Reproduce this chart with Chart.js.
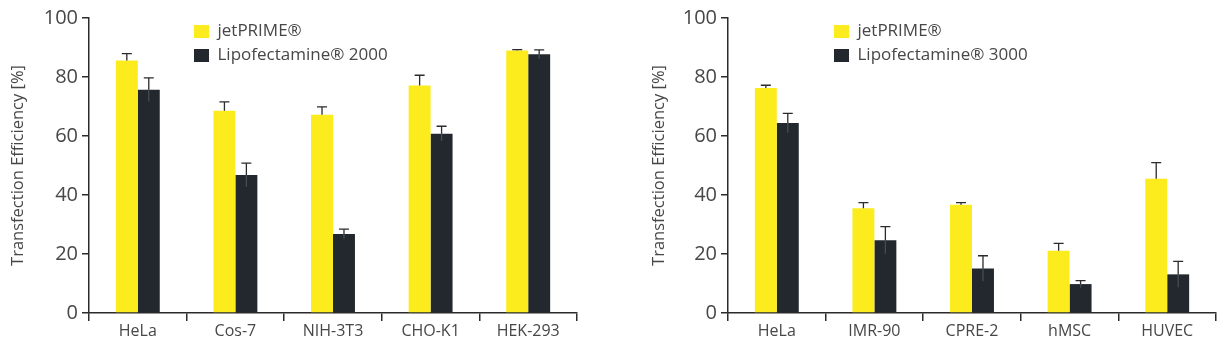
<!DOCTYPE html>
<html>
<head>
<meta charset="utf-8">
<script src="https://cdn.jsdelivr.net/npm/chart.js@4/dist/chart.umd.min.js"></script>
<style>
  html, body { margin: 0; padding: 0; background: #fff; }
  body { width: 1223px; height: 352px; position: relative; overflow: hidden; }
  .box { position: absolute; top: 0; height: 352px; }
</style>
</head>
<body>
<div class="box" style="left:0;width:611px"><canvas id="left" width="611" height="352"></canvas></div>
<div class="box" style="left:611px;width:612px"><canvas id="right" width="612" height="352"></canvas></div>
<script>
// left panel
const leftCategories = ["HeLa", "Cos-7", "NIH-3T3", "CHO-K1", "HEK-293"];
const leftJet = [85.6, 68.6, 67.2, 77.1, 89.0];
const leftJetErr = [2.3, 3.0, 2.7, 3.5, 0.3];
const leftLipo = [75.7, 46.8, 26.8, 60.8, 87.7];
const leftLipoErr = [4.0, 4.0, 1.6, 2.5, 1.5];

// right panel
const rightCategories = ["HeLa", "IMR-90", "CPRE-2", "hMSC", "HUVEC"];
const rightJet = [76.3, 35.5, 36.7, 21.1, 45.5];
const rightJetErr = [0.9, 1.9, 0.7, 2.5, 5.5];
const rightLipo = [64.4, 24.7, 15.1, 9.8, 13.1];
const rightLipoErr = [3.3, 4.6, 4.3, 1.2, 4.4];

const yTicks = [0, 20, 40, 60, 80, 100];

const YELLOW = "#fcec1e";
const DARK = "#22282e";
const AXIS = "#2b2b2b";
const TEXT = "#474747";
const FONT = "'Open Sans', sans-serif";

// draws the error whiskers on top of the bars
const errorBars = {
    id: "errorBars",
    afterDatasetsDraw(chart) {
        const ctx = chart.ctx;
        const y = chart.scales.y;
        chart.data.datasets.forEach((ds, i) => {
            const meta = chart.getDatasetMeta(i);
            meta.data.forEach((bar, j) => {
                const v = ds.data[j];
                const e = ds.errors[j];
                const top = y.getPixelForValue(v + e);
                const base = y.getPixelForValue(v);
                ctx.save();
                ctx.lineWidth = 1.3;
                if (i === 1) {
                    ctx.strokeStyle = "#454c52";
                    ctx.beginPath();
                    ctx.moveTo(bar.x, base);
                    ctx.lineTo(bar.x, y.getPixelForValue(v - e));
                    ctx.stroke();
                }
                ctx.strokeStyle = AXIS;
                ctx.beginPath();
                ctx.moveTo(bar.x, base);
                ctx.lineTo(bar.x, top);
                ctx.moveTo(bar.x - 5, top);
                ctx.lineTo(bar.x + 5, top);
                ctx.stroke();
                ctx.restore();
            });
        });
    },
};

// puts the legend inside the plot at a fixed spot
function legendSpot(x, y) {
    return {
        id: "legendSpot",
        afterLayout(chart) {
            chart.legend.left = x;
            chart.legend.top = y;
        },
    };
}

function makeChart(id, categories, jet, jetErr, lipo, lipoErr, lipoName, padLeft, padRight, legendX, titlePad) {
    return new Chart(document.getElementById(id), {
        type: "bar",
        data: {
            labels: categories,
            datasets: [
                { label: "jetPRIME®", data: jet, errors: jetErr, backgroundColor: YELLOW },
                { label: lipoName, data: lipo, errors: lipoErr, backgroundColor: DARK },
            ],
        },
        options: {
            responsive: false,
            animation: false,
            categoryPercentage: 0.45,
            barPercentage: 1.0,
            layout: { padding: { left: padLeft, right: padRight, top: 18, bottom: 0 } },
            plugins: {
                tooltip: { enabled: false },
                legend: {
                    position: "chartArea",
                    align: "start",
                    labels: {
                        boxWidth: 15,
                        boxHeight: 13,
                        padding: 7,
                        color: TEXT,
                        font: { family: FONT, size: 17 },
                    },
                },
            },
            scales: {
                x: {
                    afterFit: (s) => { s.height = 39; },
                    border: { color: AXIS, width: 1.5 },
                    grid: { drawOnChartArea: false, tickLength: 8, color: AXIS, lineWidth: 1.5 },
                    ticks: { color: TEXT, font: { family: FONT, size: 16 }, padding: 1 },
                },
                y: {
                    min: 0,
                    max: 100,
                    afterFit: (s) => { s.width = 89; },
                    afterBuildTicks: (s) => { s.ticks = yTicks.map((v) => ({ value: v })); },
                    border: { color: AXIS, width: 1.5 },
                    grid: { drawOnChartArea: false, tickLength: 7, color: AXIS, lineWidth: 1.5 },
                    ticks: { color: TEXT, font: { family: FONT, size: 20 }, padding: 4 },
                    title: {
                        display: true,
                        text: "Transfection Efficiency [%]",
                        color: TEXT,
                        font: { family: FONT, size: 16.5 },
                        padding: { top: titlePad, bottom: 0 },
                    },
                },
            },
        },
        plugins: [errorBars, legendSpot(legendX, 16)],
    });
}

makeChart("left", leftCategories, leftJet, leftJetErr, leftLipo, leftLipoErr,
    "Lipofectamine® 2000", 0, 34, 187, 8);
makeChart("right", rightCategories, rightJet, rightJetErr, rightLipo, rightLipoErr,
    "Lipofectamine® 3000", 28, 7, 216, 10);
</script>
</body>
</html>
